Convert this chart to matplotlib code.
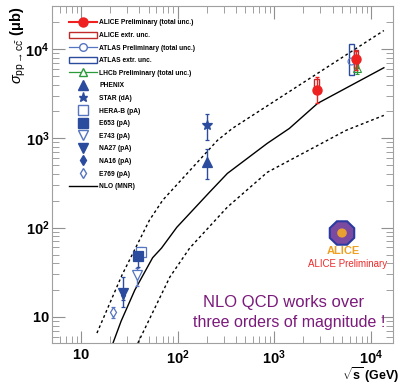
import numpy as np
import matplotlib
matplotlib.use('Agg')
import matplotlib.pyplot as plt
from matplotlib.lines import Line2D
from matplotlib.patches import Patch, Rectangle, RegularPolygon, Circle

plt.rcParams['font.family'] = ['Liberation Sans', 'DejaVu Sans']
plt.rcParams['mathtext.fontset'] = 'custom'
plt.rcParams['mathtext.rm'] = 'Liberation Sans'
plt.rcParams['mathtext.bf'] = 'Liberation Sans:bold'
plt.rcParams['mathtext.it'] = 'Liberation Sans:italic'

# NLO (MNR) central value and uncertainty band
nlo_x  = [21.4, 26.0, 36.0, 55., 68., 98., 214., 327., 847., 1430., 2800., 13600.]
nlo_y  = [5.1, 9.0, 20.0, 46., 59., 101., 250., 405., 880., 1290., 2460., 6170.]
nlo_hi_x = [14.6, 26.5, 51., 70., 258., 369., 13600.]
nlo_hi_y = [6.6, 29.4, 121., 203., 950., 1294., 16100.]
nlo_lo_x = [38.7, 83., 133., 327., 847., 5520., 13600.]
nlo_lo_y = [5.1, 28., 59., 170., 417., 1228., 1807.]

# fixed target / RHIC points: (sqrt(s), value, lower, upper)
e769  = (21.4, 11.4, 9.8, 13.0)
na27  = (27.0, 18.5, 13.0, 28.0)
na16  = (27.4, 17.5, 15.5, 20.0)
e743  = (37.9, 29.5, 22.0, 35.0)
e653  = (38.7, 48.0, 36.0, 59.0)
herab = (42.0, 53.0, 46.0, 60.5)
phenix = (200., 540., 350., 750.)
star   = (200., 1400., 950., 1860.)

# LHC points
alice_x   = [2760., 7000.]
alice_y   = [3470., 7700.]
alice_lo  = [2500., 5800.]
alice_hi  = [4900., 9400.]
alice_ext_lo = [3230., 6200.]
alice_ext_hi = [4620., 9800.]
atlas = (6250., 7300., 5100., 11400.)
lhcb  = (7200., 6100., 5200., 7200.)

red = '#ee2020'
blue = '#2b4c9e'
lblue = '#5575c0'
green = '#2a9a3a'

fig = plt.figure(figsize=(4.01, 3.84), dpi=100)
ax = fig.add_axes([0.130, 0.107, 0.850, 0.877])
ax.set_xscale('log')
ax.set_yscale('log')

ax.plot(nlo_x, nlo_y, color='black', lw=1.0)
ax.plot(nlo_hi_x, nlo_hi_y, color='black', lw=1.0, ls=(0, (2, 2)))
ax.plot(nlo_lo_x, nlo_lo_y, color='black', lw=1.0, ls=(0, (2, 2)))


def pt(p, marker, ms, filled, col=blue):
    x, y, lo, hi = p
    ax.errorbar([x], [y], yerr=[[y - lo], [hi - y]], fmt=marker, ms=ms,
                color=col, mfc=col if filled else 'white', mec=col,
                mew=0.9, elinewidth=1.0, capsize=1.5, capthick=0.8)


pt(e769, 'd', 5, False, lblue)
pt(na16, 'd', 4, True)
pt(na27, 'v', 6.5, True)
pt(e743, 'v', 7, False, lblue)
pt(herab, 's', 6.5, False, lblue)
pt(e653, 's', 6.5, True)
pt(phenix, '^', 7, True)
pt(star, '*', 7, True)


def box(x, lo, hi, col):
    f = 1.06
    ax.add_patch(Rectangle((x / f, lo), x * f - x / f, hi - lo, fill=False,
                           edgecolor=col, lw=1.0, zorder=4))


box(atlas[0], atlas[2], atlas[3], blue)
ax.errorbar([atlas[0]], [atlas[1]], fmt='o', ms=5, color=lblue, mfc='none', mew=0.8, zorder=5)
for i in range(2):
    box(alice_x[i], alice_ext_lo[i], alice_ext_hi[i], '#c02a2a')
ax.errorbar(alice_x, alice_y,
            yerr=[np.array(alice_y) - np.array(alice_lo), np.array(alice_hi) - np.array(alice_y)],
            fmt='o', ms=6.5, color=red, elinewidth=1.0, capsize=1.5, zorder=6)
ax.errorbar([lhcb[0]], [lhcb[1]], yerr=[[lhcb[1] - lhcb[2]], [lhcb[3] - lhcb[1]]],
            fmt='^', ms=6, color=green, mfc='none', mew=0.8, elinewidth=1.0, capsize=1.5, zorder=5)

ax.set_xlim(5.02, 16900)
ax.set_ylim(5.12, 30200)

# ROOT-like ticks
ax.tick_params(which='both', direction='in', top=True, right=True, color='#909090')
ax.tick_params(which='major', length=9, width=0.8)
ax.tick_params(which='minor', length=5, width=0.6)
ax.tick_params(axis='x', which='major', pad=4)
ax.tick_params(axis='y', which='major', pad=2)
for s in ax.spines.values():
    s.set_color('#a0a0a0')
ax.set_xticks([10, 100, 1000, 10000])
ax.set_xticklabels([r'$\mathbf{10}$', r'$\mathbf{10^{2}}$', r'$\mathbf{10^{3}}$', r'$\mathbf{10^{4}}$'],
                   fontsize=10.5)
ax.set_yticks([10, 100, 1000, 10000])
ax.set_yticklabels([r'$\mathbf{10}$', r'$\mathbf{10^{2}}$', r'$\mathbf{10^{3}}$', r'$\mathbf{10^{4}}$'],
                   fontsize=10.5)

ax.set_xlabel(r'$\sqrt{\mathbf{s}}$ (GeV)', fontsize=9, fontweight='bold', ha='right', va='center')
ax.xaxis.set_label_coords(1.02, -0.097)
ax.set_ylabel(r'$\sigma_{\mathrm{pp}\rightarrow\mathrm{c\bar{c}}}$ ($\mathbf{\mu}$b)',
              fontsize=10.5, fontweight='bold', ha='right', va='center')
ax.yaxis.set_label_coords(-0.1, 1.0)

handles = [
    Line2D([], [], color=red, marker='o', ms=6.5),
    Patch(facecolor='white', edgecolor='#c02a2a', lw=1.0),
    Line2D([], [], color=lblue, marker='o', ms=5.5, mfc='white', lw=0.9),
    Patch(facecolor='white', edgecolor=blue, lw=1.0),
    Line2D([], [], color=green, marker='^', ms=5.5, mfc='white', lw=0.9),
    Line2D([], [], ls='', color=blue, marker='^', ms=6.5),
    Line2D([], [], ls='', color=blue, marker='*', ms=6.5),
    Line2D([], [], ls='', color=lblue, marker='s', ms=7, mfc='white'),
    Line2D([], [], ls='', color=blue, marker='s', ms=7),
    Line2D([], [], ls='', color=lblue, marker='v', ms=7, mfc='white'),
    Line2D([], [], ls='', color=blue, marker='v', ms=7),
    Line2D([], [], ls='', color=blue, marker='d', ms=5),
    Line2D([], [], ls='', color=lblue, marker='d', ms=5, mfc='white'),
    Line2D([], [], color='black', lw=1.0),
]
labels = ['ALICE Preliminary (total unc.)', 'ALICE extr. unc.', 'ATLAS Preliminary (total unc.)',
          'ATLAS extr. unc.', 'LHCb Preliminary (total unc.)', 'PHENIX', 'STAR (dA)', 'HERA-B (pA)',
          'E653 (pA)', 'E743 (pA)', 'NA27 (pA)', 'NA16 (pA)', 'E769 (pA)', 'NLO (MNR)']
leg = ax.legend(handles, labels, loc='upper left', bbox_to_anchor=(0.035, 0.975), frameon=False,
                prop={'size': 4.8, 'weight': 'bold'}, handlelength=4.2, handleheight=1.0,
                handletextpad=0.35, labelspacing=0.8, borderpad=0.2)

purple = '#7b1a7b'
ax.text(0.68, 0.120, 'NLO QCD works over', transform=ax.transAxes, ha='center', va='center',
        fontsize=12, color=purple)
ax.text(0.695, 0.062, 'three orders of magnitude !', transform=ax.transAxes, ha='center', va='center',
        fontsize=11.5, color=purple)

# ALICE logo (rough)
lx, ly = 342 / 401, 1 - 233 / 384
fig.patches.append(RegularPolygon((lx, ly), 8, radius=0.033, orientation=np.pi / 8,
                                  transform=fig.transFigure, facecolor='#7a4aa0', edgecolor='#2a3aa0',
                                  lw=1.5))
fig.patches.append(Circle((lx, ly), 0.012, transform=fig.transFigure, facecolor='#e8a030',
                          edgecolor='none'))
fig.text(343 / 401, 1 - 251 / 384, 'ALICE', ha='center', va='center', fontsize=8, fontweight='bold',
         color='#f0a020')
fig.text(348 / 401, 1 - 264 / 384, 'ALICE Preliminary', ha='center', va='center', fontsize=7,
         color='#ee2a2a')

fig.savefig('out.png', dpi=100)
